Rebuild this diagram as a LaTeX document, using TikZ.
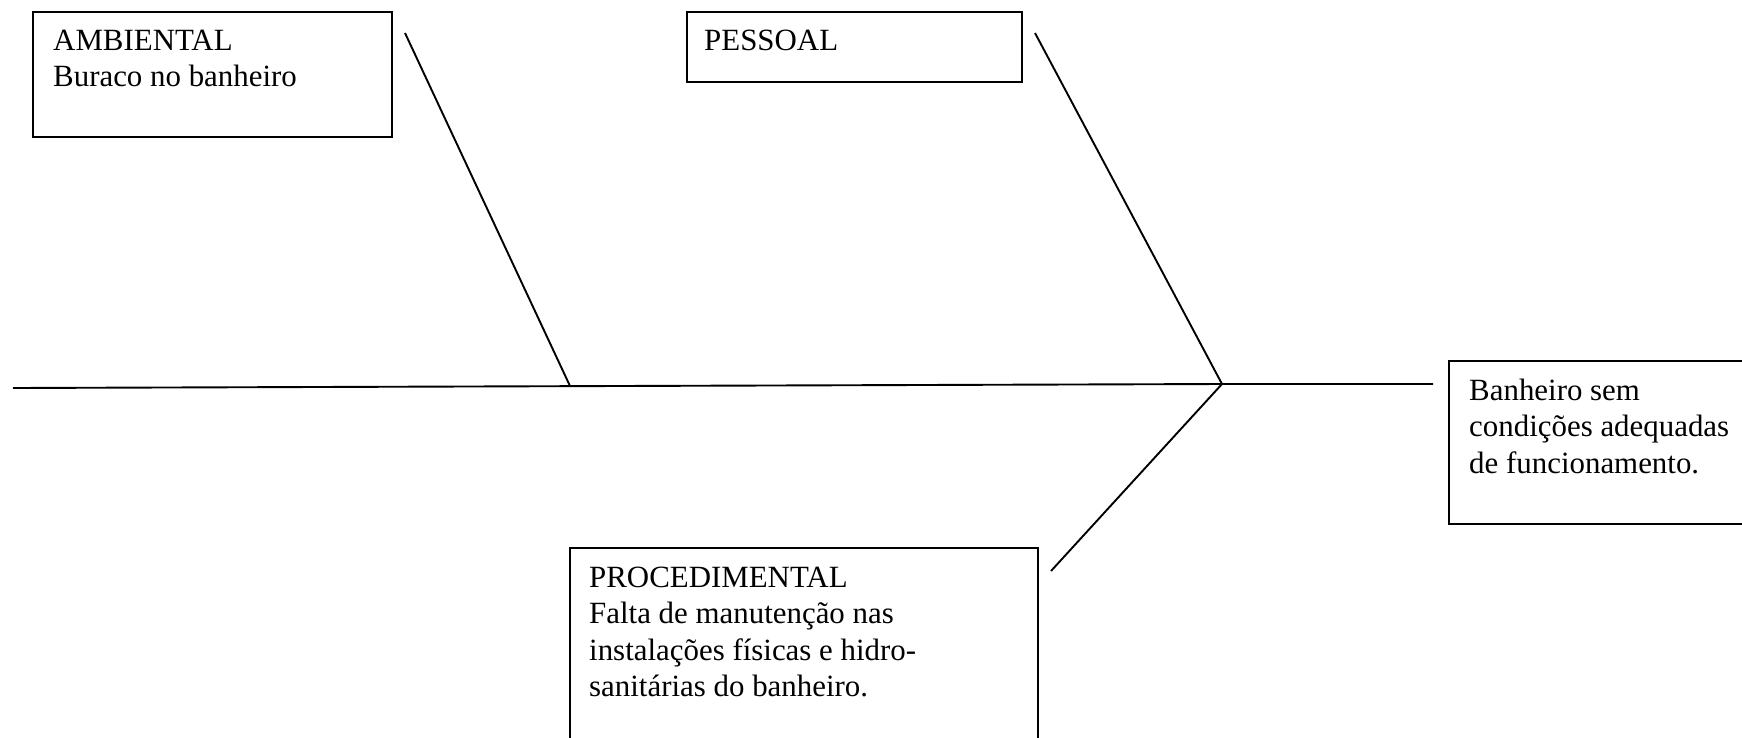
\documentclass[tikz,border=0pt]{standalone}
\usepackage{fontspec}
\setmainfont{Liberation Serif}
\begin{document}
\begin{tikzpicture}[x=1pt,y=-1pt,
  box/.style={draw, line width=1.7pt, inner sep=0pt, anchor=north west},
  % base anchor of a multi-line node sits on its last line
  txt/.style={anchor=base west, inner sep=0pt, align=left,
              font=\fontsize{30.9}{36.6}\selectfont},
  bone/.style={line width=1.9pt}]
\useasboundingbox (0,0) rectangle (1742,737);

% cause boxes
\node[box, minimum width=359pt, minimum height=125pt] (amb) at (32,11) {};
\node[txt] (ambt) at (53,86.6) {AMBIENTAL\\Buraco no banheiro};

\node[box, minimum width=335pt, minimum height=70pt] (pes) at (686,11) {};
\node[txt] (pest) at (704,50) {PESSOAL};

\node[box, minimum width=468pt, minimum height=220pt] (pro) at (569,547) {};
\node[txt] (prot) at (589,696.8) {PROCEDIMENTAL\\Falta de manuten\c{c}\~ao nas\\instala\c{c}\~oes f\'isicas e hidro-\\sanit\'arias do banheiro.};

% effect box
\node[box, minimum width=330pt, minimum height=163pt] (eff) at (1448,360) {};
\node[txt] (efft) at (1469,473.2) {Banheiro sem\\condi\c{c}\~oes adequadas\\de funcionamento.};

% spine and bones
\coordinate (tail) at (13,388);
\coordinate (joinA) at (570,386);
\coordinate (joinB) at (1222,384);
\coordinate (head) at (1433,384);
\coordinate (boneA) at (405,33);
\coordinate (boneB) at (1035,33);
\coordinate (boneC) at (1051,571);

\draw[bone] (tail) -- (joinB) -- (head);
\draw[bone] (boneA) -- (joinA);
\draw[bone] (boneB) -- (joinB);
\draw[bone] (joinB) -- (boneC);
\end{tikzpicture}
\end{document}
